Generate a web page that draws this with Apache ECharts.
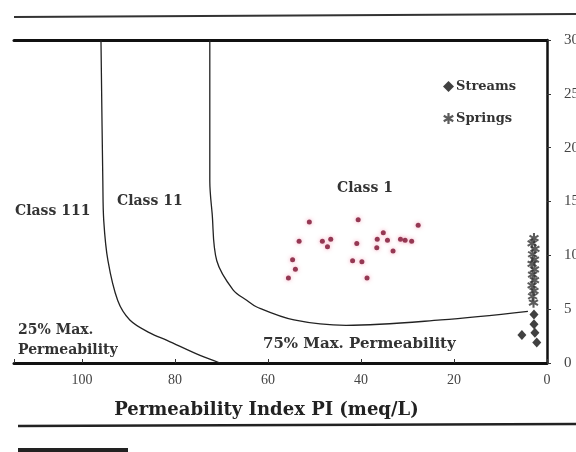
<!DOCTYPE html>
<html><head><meta charset="utf-8">
<script src="https://cdn.jsdelivr.net/npm/echarts@6/dist/echarts.min.js"></script>
<style>html,body{margin:0;padding:0;background:#fff}#c{width:576px;height:452px}</style>
</head><body><div id="c"></div>
<script>
// ---- data ----
var xTicks = [0, 20, 40, 60, 80, 100];
var yTicks = [0, 5, 10, 15, 20, 25, 30];
var boundaryIIIII = [[95.9,30],[95.5,16.9],[95.3,13.2],[94.4,9.5],[92.3,5.8],[89.7,4.0],[85.4,2.8],[81.7,2.1],[74.6,0.7],[70.3,0]];
var boundaryIII = [[72.5,30],[72.5,16.9],[72.0,13.9],[71.0,9.5],[67.5,6.8],[64.5,5.8],[62.4,5.2],[54.4,4.0],[43.2,3.5],[22.8,4.0],[4.1,4.8]];
var samples = [[51.1,13.1],[53.3,11.3],[54.7,9.6],[54.1,8.7],[55.6,7.9],[48.3,11.3],[46.5,11.5],[47.2,10.8],
  [40.6,13.3],[40.9,11.1],[41.8,9.5],[39.8,9.4],[38.7,7.9],[35.2,12.1],[36.5,11.5],[34.3,11.4],[36.6,10.7],
  [33.1,10.4],[31.5,11.5],[30.5,11.4],[29.1,11.3],[27.7,12.8]];
var streams = [[2.8,4.5],[2.8,3.6],[2.6,2.8],[5.4,2.6],[2.2,1.9]];
var springs = [[2.8,11.6],[3.2,11.1],[2.6,10.6],[3.1,10.1],[2.7,9.6],[3.2,9.2],[2.7,8.7],[3.1,8.2],[2.7,7.7],[3.2,7.2],[2.8,6.7],[3.1,6.2],[2.9,5.6]];

var star = 'path://M-1,-5 L1,-5 L1,5 L-1,5 Z M-4.83,-1.634 L-3.83,-3.366 L4.83,1.634 L3.83,3.366 Z M3.83,-3.366 L4.83,-1.634 L-3.83,3.366 L-4.83,1.634 Z';
var serif = '"DejaVu Serif", "Liberation Serif", serif';
var tserif = '"Liberation Serif", "DejaVu Serif", serif';

var chart = echarts.init(document.getElementById('c'));
chart.setOption({
  animation: false,
  backgroundColor: '#fff',
  grid: { left: 14, right: 29, top: 40, bottom: 89, containLabel: false, outerBoundsMode: 'none' },
  legend: {
    data: [{name: 'Streams', icon: 'diamond'}, {name: 'Springs', icon: star}],
    orient: 'vertical', left: 438, top: 75, itemGap: 19, itemWidth: 11, itemHeight: 11,
    textStyle: { fontFamily: serif, fontWeight: 'bold', fontSize: 13, color: '#333', padding: [0,0,0,-3] }
  },
  xAxis: [{
    type: 'value', inverse: true, min: 0, max: 114.6, interval: 20,
    name: 'Permeability Index PI (meq/L)', nameLocation: 'middle', nameGap: 38,
    nameTextStyle: { fontFamily: serif, fontWeight: 'bold', fontSize: 18, color: '#222', padding: [0,0,0,-28] },
    axisLine: { lineStyle: { color: '#111', width: 3 } },
    axisTick: { inside: true, length: 4, lineStyle: { color: '#333' } },
    axisLabel: { fontFamily: tserif, fontSize: 14, color: '#444', margin: 10,
      formatter: function (v) { return xTicks.indexOf(v) >= 0 ? String(v) : ''; } },
    splitLine: { show: false }
  }, {
    type: 'value', position: 'top', inverse: true, min: 0, max: 114.6,
    axisLine: { show: true, lineStyle: { color: '#111', width: 3 } },
    axisTick: { show: false }, axisLabel: { show: false }, splitLine: { show: false }
  }],
  yAxis: {
    type: 'value', position: 'right', min: 0, max: 30, interval: 5,
    axisLine: { show: true, lineStyle: { color: '#111', width: 2.5 } },
    axisTick: { show: true, length: 4, lineStyle: { color: '#333' } },
    axisLabel: { fontFamily: tserif, fontSize: 15, color: '#444', margin: 17,
      formatter: function (v) { return yTicks.indexOf(v) >= 0 ? String(v) : ''; } },
    splitLine: { show: false }
  },
  series: [
    { type: 'line', data: boundaryIIIII, smooth: 0.35, showSymbol: false, lineStyle: { color: '#222', width: 1.3 }, silent: true },
    { type: 'line', data: boundaryIII, smooth: 0.35, showSymbol: false, lineStyle: { color: '#222', width: 1.3 }, silent: true },
    { name: 'Samples', type: 'scatter', data: samples, symbolSize: 5,
      itemStyle: { color: '#7a1030', shadowBlur: 4, shadowColor: 'rgba(230,90,130,0.7)' } },
    { name: 'Streams', type: 'scatter', data: streams, symbol: 'diamond', symbolSize: [9,10], itemStyle: { color: '#111' } },
    { name: 'Springs', type: 'scatter', data: springs, symbol: star, symbolSize: 10, itemStyle: { color: '#333' } }
  ],
  graphic: [
    { type: 'line', shape: { x1: 14, y1: 17, x2: 576, y2: 14 }, style: { stroke: '#333', lineWidth: 2 } },
    { type: 'line', shape: { x1: 18, y1: 426, x2: 576, y2: 424 }, style: { stroke: '#222', lineWidth: 2.5 } },
    { type: 'rect', shape: { x: 18, y: 448, width: 110, height: 4 }, style: { fill: '#222' } },
    { type: 'text', left: 15, top: 204, style: { text: 'Class 111', font: 'bold 14px ' + serif, fill: '#333' } },
    { type: 'text', left: 117, top: 194, style: { text: 'Class 11', font: 'bold 14px ' + serif, fill: '#333' } },
    { type: 'text', left: 337, top: 181, style: { text: 'Class 1', font: 'bold 14px ' + serif, fill: '#333' } },
    { type: 'text', left: 18, top: 320, style: { text: '25% Max.\nPermeability', font: 'bold 14px ' + serif, fill: '#333', lineHeight: 20 } },
    { type: 'text', left: 263, top: 337, style: { text: '75% Max. Permeability', font: 'bold 15px ' + serif, fill: '#333' } }
  ]
});
</script></body></html>
